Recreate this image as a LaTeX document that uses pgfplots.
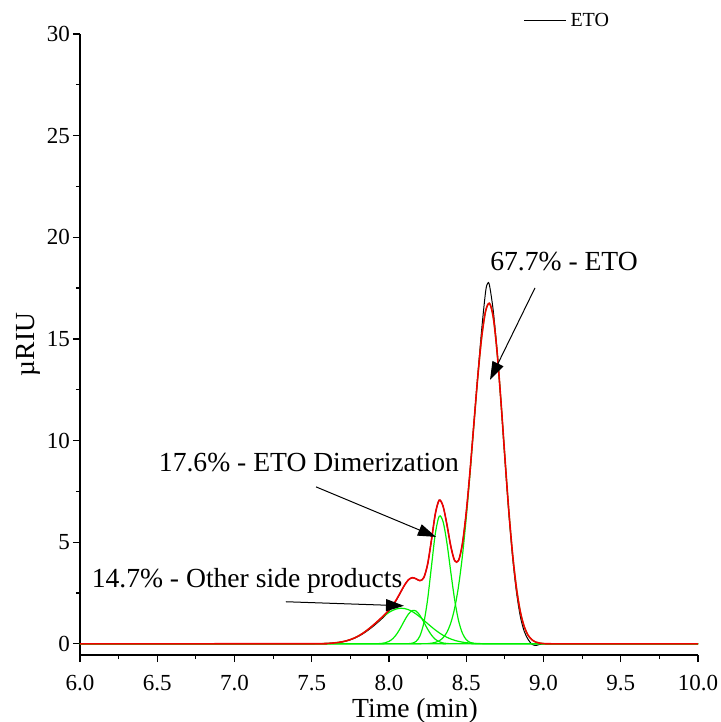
\documentclass[border=0pt]{standalone}
\usepackage{fontspec}
\setmainfont{Liberation Serif}
\usepackage{pgfplots}
\pgfplotsset{compat=1.18}
\usetikzlibrary{arrows.meta}

\definecolor{fitred}{RGB}{240,0,0}
\definecolor{peakgreen}{RGB}{0,240,0}

\begin{document}
\begin{tikzpicture}
\begin{axis}[
  scale only axis,
  width=309pt, height=310.5pt,
  xmin=6, xmax=10, ymin=-0.55, ymax=30,
  axis x line*=bottom, axis y line*=left,
  axis line style={line width=0.6pt},
  tick align=outside,
  xtick={6,6.5,7,7.5,8,8.5,9,9.5,10},
  ytick={0,5,10,15,20,25,30},
  minor x tick num=1, minor y tick num=1,
  major tick length=3.5pt, minor tick length=2pt,
  tick style={black, line width=0.6pt},
  /pgf/number format/assume math mode=true,
  x tick label style={/pgf/number format/fixed, /pgf/number format/fixed zerofill,
    /pgf/number format/precision=1, yshift=-3pt},
  y tick label style={xshift=2pt},
  ticklabel style={font=\fontsize{11.5}{13}\selectfont},
  xlabel={Time (min)}, ylabel={µRIU},
  label style={font=\fontsize{13.8}{16}\selectfont},
  xlabel style={at={(axis description cs:0.542,0)}, anchor=center, yshift=-28pt},
  ylabel style={at={(axis description cs:-0.084,0.5)}, anchor=center},
  legend style={at={(0.717,1.021)}, anchor=west, draw=none, fill=none,
    inner sep=0pt, font=\fontsize{10}{12}\selectfont},
  legend image code/.code={\draw[#1] (0pt,0pt) -- (21pt,0pt);},
]

% measured trace
\addplot[black, line width=0.5pt, smooth] coordinates {
  (6,0) (7.0,0) (7.3,0) (7.4,0) (7.45,0) (7.475,0.001)
  (7.5,0.002) (7.525,0.004) (7.55,0.007) (7.575,0.012) (7.6,0.019)
  (7.625,0.030) (7.65,0.045) (7.675,0.068) (7.7,0.100) (7.725,0.142)
  (7.75,0.198) (7.775,0.270) (7.8,0.360) (7.825,0.466) (7.85,0.590)
  (7.875,0.728) (7.9,0.876) (7.925,1.040) (7.95,1.210) (7.975,1.395)
  (8,1.610) (8.025,1.870) (8.05,2.180) (8.075,2.530) (8.1,2.880)
  (8.125,3.144) (8.15,3.253) (8.175,3.199) (8.2,3.108) (8.225,3.251)
  (8.25,3.917) (8.275,5.112) (8.3,6.401) (8.325,7.067) (8.35,6.770)
  (8.375,5.862) (8.4,4.799) (8.425,4.093) (8.45,4.098) (8.475,4.918)
  (8.5,6.465) (8.525,8.541) (8.55,10.879) (8.575,13.22) (8.6,15.47)
  (8.625,17.31) (8.6375,17.72) (8.65,17.65) (8.675,16.37) (8.7,14.37)
  (8.725,11.86) (8.75,9.12) (8.775,6.50) (8.8,4.27) (8.825,2.55)
  (8.85,1.35) (8.875,0.62) (8.9,0.22) (8.925,-0.02) (8.95,-0.08)
  (8.975,-0.03) (9,0) (9.025,0) (9.05,0) (9.1,0) (9.2,0) (9.4,0) (9.7,0) (10,0)
};
\addlegendentry{ETO}

% fitted peaks
\addplot[peakgreen, line width=0.6pt, smooth, forget plot] coordinates {
  (6,0) (7.5,0.002) (7.525,0.004) (7.55,0.007) (7.575,0.012) (7.6,0.019)
  (7.625,0.031) (7.65,0.047) (7.675,0.071) (7.7,0.104) (7.725,0.149)
  (7.75,0.209) (7.775,0.284) (7.8,0.379) (7.825,0.491) (7.85,0.623)
  (7.875,0.770) (7.9,0.929) (7.925,1.095) (7.95,1.258) (7.975,1.411)
  (8,1.544) (8.025,1.650) (8.05,1.720) (8.075,1.750) (8.1,1.736)
  (8.125,1.682) (8.15,1.590) (8.175,1.467) (8.2,1.321) (8.225,1.161)
  (8.25,0.995) (8.275,0.833) (8.3,0.680) (8.325,0.542) (8.35,0.421)
  (8.375,0.320) (8.4,0.237) (8.425,0.171) (8.45,0.121) (8.475,0.083)
  (8.5,0.056) (8.525,0.037) (8.55,0.023) (8.575,0.015) (8.6,0.009)
  (8.625,0.005) (8.65,0.003) (8.7,0) (10,0)
};
\addplot[peakgreen, line width=0.6pt, smooth, forget plot] coordinates {
  (6,0) (7.85,0) (7.875,0.0004) (7.9,0.002) (7.925,0.006) (7.95,0.018)
  (7.975,0.050) (8,0.121) (8.025,0.257) (8.05,0.480) (8.075,0.790)
  (8.1,1.143) (8.125,1.456) (8.15,1.633) (8.175,1.613) (8.2,1.401)
  (8.225,1.072) (8.25,0.722) (8.275,0.428) (8.3,0.223) (8.325,0.103)
  (8.35,0.041) (8.375,0.015) (8.4,0.005) (8.425,0.001) (8.45,0) (10,0)
};
\addplot[peakgreen, line width=0.6pt, smooth, forget plot] coordinates {
  (6,0) (8.075,0) (8.1,0.001) (8.125,0.006) (8.15,0.030) (8.175,0.119)
  (8.2,0.386) (8.225,1.018) (8.25,2.187) (8.275,3.821) (8.3,5.429)
  (8.325,6.274) (8.35,6.009) (8.375,4.957) (8.4,3.527) (8.425,2.165)
  (8.45,1.146) (8.475,0.524) (8.5,0.206) (8.525,0.070) (8.55,0.020)
  (8.575,0.005) (8.6,0.001) (8.625,0) (10,0)
};
\addplot[peakgreen, line width=0.6pt, smooth, forget plot] coordinates {
  (6,0) (8.225,0) (8.25,0.013) (8.275,0.030) (8.3,0.069) (8.325,0.148)
  (8.35,0.299) (8.375,0.570) (8.4,1.030) (8.425,1.756) (8.45,2.831)
  (8.475,4.311) (8.5,6.203) (8.525,8.434) (8.55,10.836) (8.575,13.154)
  (8.6,15.088) (8.625,16.353) (8.65,16.750) (8.675,16.059) (8.7,14.326)
  (8.725,11.889) (8.75,9.179) (8.775,6.593) (8.8,4.405) (8.825,2.739)
  (8.85,1.583) (8.875,0.851) (8.9,0.425) (8.925,0.199) (8.95,0.086)
  (8.975,0.035) (9,0.013) (9.025,0.004) (9.05,0.001) (9.075,0) (10,0)
};

% cumulative fit
\addplot[fitred, line width=0.8pt, smooth, forget plot] coordinates {
  (6,0) (7.5,0.002) (7.525,0.004) (7.55,0.007) (7.575,0.012) (7.6,0.019)
  (7.625,0.031) (7.65,0.047) (7.675,0.071) (7.7,0.104) (7.725,0.149)
  (7.75,0.209) (7.775,0.284) (7.8,0.379) (7.825,0.491) (7.85,0.623)
  (7.875,0.770) (7.9,0.931) (7.925,1.101) (7.95,1.276) (7.975,1.461)
  (8,1.665) (8.025,1.907) (8.05,2.200) (8.075,2.540) (8.1,2.880)
  (8.125,3.144) (8.15,3.253) (8.175,3.199) (8.2,3.108) (8.225,3.251)
  (8.25,3.917) (8.275,5.112) (8.3,6.401) (8.325,7.067) (8.35,6.770)
  (8.375,5.862) (8.4,4.799) (8.425,4.093) (8.45,4.098) (8.475,4.918)
  (8.5,6.465) (8.525,8.541) (8.55,10.879) (8.575,13.174) (8.6,15.098)
  (8.625,16.358) (8.65,16.753) (8.675,16.059) (8.7,14.326) (8.725,11.889)
  (8.75,9.179) (8.775,6.593) (8.8,4.405) (8.825,2.739) (8.85,1.583)
  (8.875,0.851) (8.9,0.425) (8.925,0.199) (8.95,0.086) (8.975,0.035)
  (9,0.013) (9.025,0.004) (9.05,0.001) (9.075,0) (10,0)
};

% annotations
\node[font=\fontsize{13.8}{16}\selectfont] at (axis cs:9.133,18.79) {67.7\% - ETO};
\node[font=\fontsize{13.8}{16}\selectfont] at (axis cs:7.482,8.90) {17.6\% - ETO Dimerization};
\node[font=\fontsize{13.8}{16}\selectfont] at (axis cs:7.081,3.10) {14.7\% - Other side products};
\draw[black, line width=0.5pt, -{Triangle[length=9pt,width=6pt]}]
  (axis cs:8.945,17.51) -- (axis cs:8.654,12.99);
\draw[black, line width=0.5pt, -{Triangle[length=9pt,width=6pt]}]
  (axis cs:7.528,7.72) -- (axis cs:8.304,5.26);
\draw[black, line width=0.5pt, -{Triangle[length=9pt,width=6pt]}]
  (axis cs:7.333,2.07) -- (axis cs:8.097,1.87);
\end{axis}
\pgfresetboundingbox
\path (-40pt,-33.5pt) rectangle (320pt,327.5pt);
\end{tikzpicture}
\end{document}
